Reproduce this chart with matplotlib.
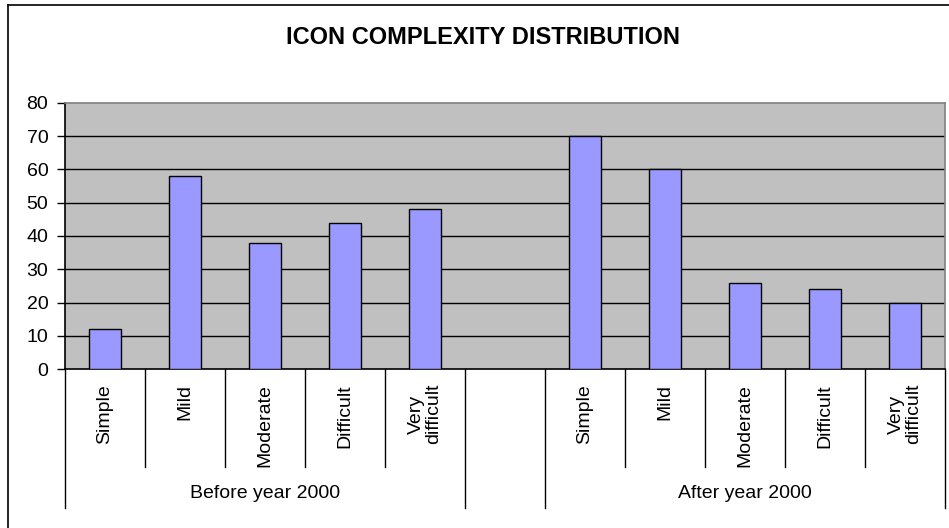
import matplotlib
matplotlib.use("Agg")
import matplotlib.pyplot as plt
from matplotlib.lines import Line2D
import matplotlib.transforms as mtransforms

plt.rcParams['font.family'] = ['Liberation Sans', 'DejaVu Sans']

title = "ICON COMPLEXITY DISTRIBUTION"
groups = ["Before year 2000", "After year 2000"]
categories = ["Simple", "Mild", "Moderate", "Difficult", "Very\ndifficult"]
before_vals = [12, 58, 38, 44, 48]
after_vals = [70, 60, 26, 24, 20]
yticks = [0, 10, 20, 30, 40, 50, 60, 70, 80]

W, H = 949, 528
fig = plt.figure(figsize=(W / 100, H / 100), dpi=100)

left_px, right_px, top_px, bot_px = 65, 945, 102.7, 369.3
ax = fig.add_axes([left_px / W, 1 - bot_px / H, (right_px - left_px) / W, (bot_px - top_px) / H])
ax.set_facecolor('#C0C0C0')

# slots: 5 categories, empty slot, 5 categories
ncat = len(categories)
group_vals = [before_vals, after_vals]
group_start = [0, ncat + 1]
nslots = 2 * ncat + 1

for g, vals in enumerate(group_vals):
    xs = [group_start[g] + i + 0.5 for i in range(ncat)]
    ax.bar(xs, vals, width=0.4, color='#9999FF', edgecolor='black', linewidth=1, zorder=3)

ax.set_xlim(0, nslots)
ax.set_ylim(0, 80)
ax.set_yticks(yticks)
ax.set_yticklabels([str(v) for v in yticks], fontsize=14)
ax.tick_params(axis='y', direction='out', length=6, width=1, color='black', pad=6)
ax.set_xticks([])
for v in yticks[1:-1]:
    ax.axhline(v, color='black', lw=1, zorder=1)

ax.spines['left'].set_color('black')
ax.spines['bottom'].set_color('black')
ax.spines['top'].set_color('#808080')
ax.spines['right'].set_color('#808080')
for s in ax.spines.values():
    s.set_linewidth(1.2)

trans = mtransforms.blended_transform_factory(ax.transData, ax.transAxes)
hpx = bot_px - top_px
y_short = -(467 - bot_px) / hpx
y_long = -(508 - bot_px) / hpx
y_lab = -(384 - bot_px) / hpx
y_grp = -(493 - bot_px) / hpx

for g in range(2):
    s = group_start[g]
    for i in range(ncat + 1):
        x = s + i
        long = (i == 0 or i == ncat)
        ax.add_line(Line2D([x, x], [0, y_long if long else y_short], transform=trans,
                           color='black', lw=1, clip_on=False))
    for i, c in enumerate(categories):
        ax.text(s + i + 0.5, y_lab, c, transform=trans, rotation=90, ha='center', va='top',
                multialignment='center', fontsize=14, linespacing=1.0)
    ax.text(s + ncat / 2, y_grp, groups[g], transform=trans, ha='center', va='center', fontsize=14)

fig.text(483.5 / W, 1 - 37 / H, title, ha='center', va='center', fontsize=17, fontweight='bold')

# chart frame (left and top visible)
fx, fy = 8 / W, 1 - 4.5 / H
fig.add_artist(Line2D([fx, fx], [0, fy], transform=fig.transFigure, color='black', lw=1.2))
fig.add_artist(Line2D([fx, 1], [fy, fy], transform=fig.transFigure, color='black', lw=1.2))

fig.savefig('out.png', dpi=100, facecolor='white')
